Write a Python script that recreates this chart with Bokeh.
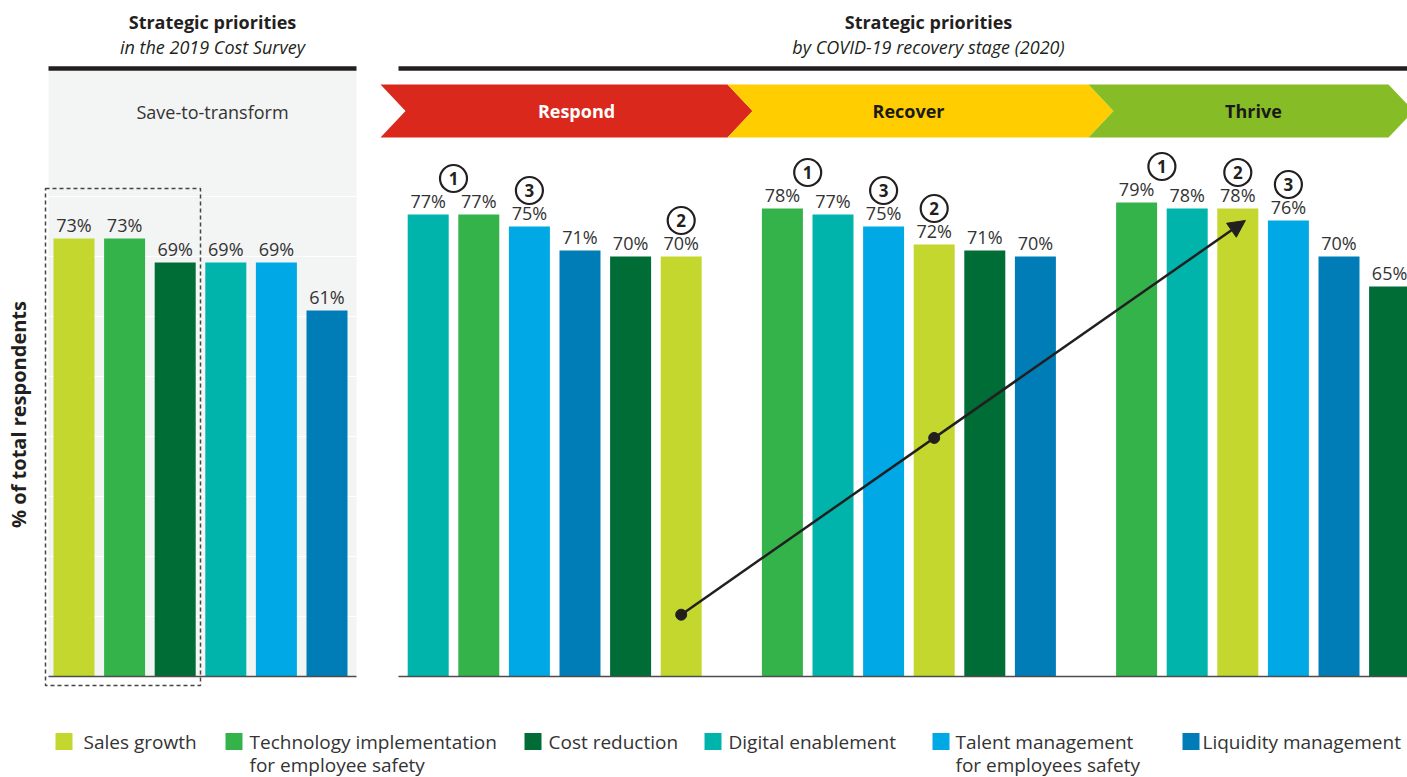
import math
from bokeh.plotting import figure
from bokeh.models import Range1d, Arrow, NormalHead
from bokeh.core.properties import value
from bokeh.embed import file_html
from bokeh.resources import INLINE

# ---------------- data ----------------
series = ["Sales growth", "Technology implementation for employee safety", "Cost reduction",
          "Digital enablement", "Talent management for employees safety", "Liquidity management"]
legend_labels = ["Sales growth", "Technology implementation\nfor employee safety", "Cost reduction",
                 "Digital enablement", "Talent management\nfor employees safety", "Liquidity management"]
series_colors = ["#C4D72F", "#34B34A", "#006C36", "#00B4AC", "#00A9E5", "#007CB7"]

survey_2019_order = [0, 1, 2, 3, 4, 5]
survey_2019_values = [73, 73, 69, 69, 69, 61]

respond_order = [3, 1, 4, 5, 2, 0]
respond_values = [77, 77, 75, 71, 70, 70]
recover_order = [1, 3, 4, 0, 2, 5]
recover_values = [78, 77, 75, 72, 71, 70]
thrive_order = [1, 3, 0, 4, 5, 2]
thrive_values = [79, 78, 78, 76, 70, 65]

# rank badges: (rank, bars it belongs to)
respond_ranks = [(1, [0, 1]), (3, [2]), (2, [5])]
recover_ranks = [(1, [0, 1]), (3, [2]), (2, [3])]
thrive_ranks = [(1, [0, 1]), (2, [2]), (3, [3])]

stage_names = ["Respond", "Recover", "Thrive"]
stage_colors = ["#DA291C", "#FFCD00", "#86BC25"]
stage_text_colors = ["#FFFFFF", "#1A1A1A", "#1A1A1A"]

gridlines_2019 = [10, 20, 30, 40, 50, 60, 70, 80]

# ---------------- layout helpers (page pixels -> data) ----------------
SLOT_PX = 50.6
SLOT0_PX = 73.5
BASE_PX = 676.0
PCT_PX = 6.0
W, H = 1407, 777
OX, OY = 0, 0  # page offset of the figure


def px(X):
    return (X - SLOT0_PX) / SLOT_PX


def py(Y):
    return (BASE_PX - Y) / PCT_PX


p = figure(width=W, height=H, output_backend="svg", toolbar_location=None,
           x_range=Range1d(px(OX), px(OX + W)), y_range=Range1d(py(OY + H), py(OY)),
           x_axis_type=None, y_axis_type=None, min_border=0)
p.grid.visible = False
p.outline_line_color = None
p.background_fill_color = "white"

FONT = value("Open Sans")
INK = "#231F20"
TXT = "#333333"

# left panel background + grid
p.quad(left=[px(48)], right=[px(356)], bottom=[0], top=[py(70)], fill_color="#F3F4F4", line_color=None)
p.segment(x0=[px(48)] * len(gridlines_2019), x1=[px(356)] * len(gridlines_2019),
          y0=gridlines_2019, y1=gridlines_2019, line_color="white", line_width=1.2)

# top rules
p.segment(x0=[px(48), px(398)], x1=[px(356), px(1410)], y0=[py(68), py(68)], y1=[py(68), py(68)],
          line_color=INK, line_width=4.5)

# titles
p.text(x=[px(212), px(928)], y=[py(21), py(21)], text=["Strategic priorities", "Strategic priorities"],
       text_font=FONT, text_font_style="bold", text_font_size=value("18px"), text_color=INK,
       text_align="center", text_baseline="middle")
p.text(x=[px(212), px(928)], y=[py(46), py(46)],
       text=["in the 2019 Cost Survey", "by COVID-19 recovery stage (2020)"],
       text_font=FONT, text_font_style="italic", text_font_size=value("18px"), text_color=INK,
       text_align="center", text_baseline="middle")
p.text(x=[px(212)], y=[py(111)], text=["Save-to-transform"], text_font=FONT,
       text_font_size=value("18px"), text_color=TXT, text_align="center", text_baseline="middle")

# stage banners (chevrons)
edges = [px(380), px(727), px(1088), px(1388)]
notch = 25 / SLOT_PX
ytop, ybot, ymid = py(84), py(137), py(110.5)
xs, ys = [], []
for i in range(3):
    l, r = edges[i], edges[i + 1]
    xs.append([l, r, r + notch, r, l, l + notch])
    ys.append([ytop, ytop, ymid, ybot, ybot, ymid])
p.patches(xs=xs, ys=ys, fill_color=stage_colors, line_color=None)
centers = [px(576), px(908), px(1253)]
p.text(x=centers, y=[ymid] * 3, text=stage_names, text_font=FONT, text_font_style="bold",
       text_font_size=value("18px"), text_color=stage_text_colors, text_align="center",
       text_baseline="middle")

# bars
groups = [(0, survey_2019_order, survey_2019_values),
          (7, respond_order, respond_values),
          (14, recover_order, recover_values),
          (21, thrive_order, thrive_values)]
bx, bt, bc, bl = [], [], [], []
for start, order, vals in groups:
    for j, (s, v) in enumerate(zip(order, vals)):
        bx.append(start + j)
        bt.append(v)
        bc.append(series_colors[s])
        bl.append(f"{v}%")
p.vbar(x=bx, top=bt, bottom=0, width=41 / SLOT_PX, fill_color=bc, line_color=None)
p.text(x=bx, y=[v + 0.2 for v in bt], text=bl, text_font=FONT, text_font_size=value("18px"),
       text_color=TXT, text_align="center", text_baseline="bottom")

# baselines
p.segment(x0=[px(48), px(398)], x1=[px(356), px(1410)], y0=[0, 0], y1=[0, 0],
          line_color="#4D4D4D", line_width=1.5)

# dashed box around first three 2019 bars
p.quad(left=[px(45)], right=[px(200)], bottom=[py(685)], top=[py(188)], fill_color=None,
       line_color="#444444", line_width=1.5, line_dash="4 3")

# rank badges
cx, cy, ct = [], [], []
for (start, order, vals), ranks in zip(groups[1:], [respond_ranks, recover_ranks, thrive_ranks]):
    for rank, bars in ranks:
        cx.append(start + sum(bars) / len(bars))
        cy.append(max(vals[b] for b in bars) + 6)
        ct.append(str(rank))
p.scatter(x=cx, y=cy, size=27, marker="circle", fill_color="white", line_color=INK, line_width=2.2)
p.text(x=cx, y=cy, text=ct, text_font=FONT, text_font_style="bold", text_font_size=value("17px"),
       text_color=INK, text_align="center", text_baseline="middle")

# arrow through the sales-growth bars
sg_slots = [7 + respond_order.index(0), 14 + recover_order.index(0), 21 + thrive_order.index(0)]
ay0, ay1 = 10.3, 76.0
ax0, ax1 = sg_slots[0], sg_slots[2] + 0.15
p.add_layout(Arrow(end=NormalHead(size=17, fill_color=INK, line_color=INK),
                   x_start=ax0, y_start=ay0, x_end=ax1, y_end=ay1,
                   line_color=INK, line_width=2.5))
amid = ay0 + (sg_slots[1] - ax0) / (ax1 - ax0) * (ay1 - ay0)
p.scatter(x=[ax0, sg_slots[1]], y=[ay0, amid], size=11, marker="circle", fill_color=INK, line_color=INK)

# y-axis title
p.text(x=[px(18)], y=[py(414)], text=["% of total respondents"], angle=math.pi / 2, text_font=FONT,
       text_font_style="bold", text_font_size=value("20px"), text_color=INK, text_align="center",
       text_baseline="middle")

# legend (square + label; second label lines drawn below the first)
leg_sq = [55, 225, 524, 704, 932, 1182]
leg_tx = [83, 249, 548, 728, 955, 1202]
p.rect(x=[px(X + 8.5) for X in leg_sq], y=[py(741)] * 6, width=17, height=17,
       width_units="screen", height_units="screen", fill_color=series_colors, line_color=None)
first_lines = [lab.split("\n")[0] for lab in legend_labels]
p.text(x=[px(X) for X in leg_tx], y=[py(741)] * 6, text=first_lines, text_font=FONT,
       text_font_size=value("19px"), text_color=TXT, text_align="left", text_baseline="middle")
sec_x, sec_t = [], []
for X, lab in zip(leg_tx, legend_labels):
    parts = lab.split("\n")
    if len(parts) > 1:
        sec_x.append(px(X))
        sec_t.append(parts[1])
p.text(x=sec_x, y=[py(764)] * len(sec_x), text=sec_t, text_font=FONT,
       text_font_size=value("19px"), text_color=TXT, text_align="left", text_baseline="middle")

open("out.html", "w").write(file_html(p, INLINE))
